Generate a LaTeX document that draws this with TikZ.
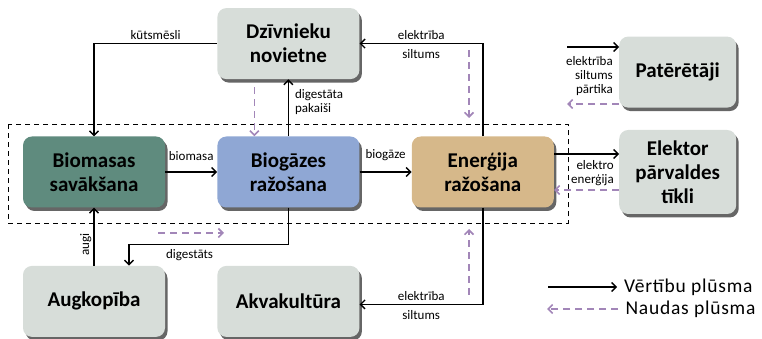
\documentclass[tikz,border=0pt]{standalone}
\usepackage{fontspec}
\setmainfont{Carlito}
\newfontfamily\legendfont[LetterSpace=4]{Carlito}
\usepackage{tikz}
\usetikzlibrary{arrows.meta,positioning,shadows}
\definecolor{FarmGray}{HTML}{D7DDD9}
\definecolor{FarmGreen}{HTML}{5F8B7E}
\definecolor{FarmBlue}{HTML}{8FA7D4}
\definecolor{FarmTan}{HTML}{D6B88A}
\definecolor{FarmPurple}{HTML}{A286B8}

\begin{document}
\begin{tikzpicture}[x=1pt,y=1pt,
  box/.style={rounded corners=9pt,minimum width=142pt,minimum height=71pt,align=center,font=\fontsize{21}{24}\selectfont\bfseries,drop shadow={shadow xshift=2.5pt,shadow yshift=-3.5pt,fill=black,opacity=.6}},
  lbl/.style={font=\fontsize{13}{14}\selectfont,inner sep=2pt},
  leg/.style={font=\legendfont\fontsize{19.5}{22}\selectfont},
  arr/.style={-{Straight Barb[length=4.5pt,width=9pt]},line width=1.4pt},
  money/.style={-{Straight Barb[length=4.5pt,width=9pt]},line width=1.6pt,FarmPurple,dash pattern=on 7pt off 5pt}]
\useasboundingbox (0,0) rectangle (762,339);
\node[box,fill=FarmGreen] (bio) at (94,167) {Biomasas\\savākšana};
\node[box,fill=FarmBlue,right=52pt of bio] (bgz) {Biogāzes\\ražošana};
\node[box,fill=FarmTan,right=52pt of bgz] (ene) {Enerģija\\ražošana};
\node[box,fill=FarmGray,above=57pt of bgz] (dzi) {Dzīvnieku\\novietne};
\node[box,fill=FarmGray,below=58pt of bio] (aug) {Augkopība};
\node[box,fill=FarmGray,below=58pt of bgz] (akv) {Akvakultūra};
\node[box,fill=FarmGray,minimum width=117pt,minimum height=84pt,right=65pt of ene] (elek) {Elektor\\pārvaldes\\tīkli};
\node[box,fill=FarmGray,minimum width=117pt,minimum height=71pt,above=22pt of elek] (pat) {Patērētāji};
% sistemas robeza
\draw[line width=.9pt,dash pattern=on 5pt off 4pt] ([xshift=-14pt,yshift=12pt]bio.north west) rectangle ([xshift=14pt,yshift=-16pt]ene.south east);
% vertibu plusma
\draw[arr] (dzi.west) -| node[lbl,pos=.25,above=1pt]{kūtsmēsli} (bio.north);
\draw[arr] (ene.north) |- node[lbl,pos=.75,above=1pt]{elektrība} node[lbl,pos=.75,below=3pt]{siltums} (dzi.east);
\draw[arr] (bgz.north) -- node[lbl,pos=.6,right=4pt,align=left]{digestāta\\pakaiši} (bgz.north |- dzi.south);
\draw[arr] (bio) -- node[lbl,above=9pt]{biomasa} (bgz);
\draw[arr] (bgz) -- node[lbl,above=9pt]{biogāze} (ene);
\draw[arr] ([yshift=18pt]ene.east) -- ([yshift=18pt]ene.east -| elek.west);
\node[lbl,align=right,left=3pt of {[yshift=-1.5pt]elek.west}] (elbl) {elektro\\enerģija};
\draw[arr] (aug.north) -- node[lbl,pos=.31,rotate=90,above=3pt]{augi} (bio.south);
\draw[arr] (bgz.south) -- ++(0,-37) -| node[lbl,pos=.31,below=2pt]{digestāts} ([xshift=35pt]aug.north);
\draw[arr] (ene.south) |- node[lbl,pos=.75,above=1pt]{elektrība} node[lbl,pos=.75,below=3pt]{siltums} ([yshift=-3pt]akv.east);
\coordinate (patIn) at (567,292);
\coordinate (patOut) at (567,235);
\draw[arr] (patIn) -- (patIn -| pat.west);
\node[lbl,align=right,left=4pt of {[yshift=-3.5pt]pat.west}] (plbl) {elektrība\\siltums\\pārtika};
% naudas plusma
\draw[money] (pat.west |- patOut) -- (patOut);
\draw[money] ([yshift=-18pt]elek.west) -- ([yshift=-18pt]elek.west -| ene.east);
\draw[money,shorten <=8pt] ([xshift=-34pt]dzi.south) -- ([xshift=-34pt]bgz.north);
\coordinate (dzmA) at (469,289);
\coordinate (dzmB) at (469,221);
\draw[money] (dzmA) -- (dzmB);
\coordinate (akmA) at (469,44);
\coordinate (akmB) at (469,110);
\draw[money] (akmA) -- (akmB);
\coordinate (digA) at (158,106);
\coordinate (digB) at (224,106);
\draw[money] (digA) -- (digB);
% apzimejumi
\coordinate (vA) at (548,52);
\coordinate (vB) at (617,52);
\coordinate (nA) at (618,30);
\coordinate (nB) at (547,30);
\draw[arr] (vA) -- (vB) node[leg,right=3pt] (vtxt) {Vērtību plūsma};
\draw[money] (nA) -- (nB);
\node[leg,right=4pt of nA] (ntxt) {Naudas plūsma};
\end{tikzpicture}
\end{document}
